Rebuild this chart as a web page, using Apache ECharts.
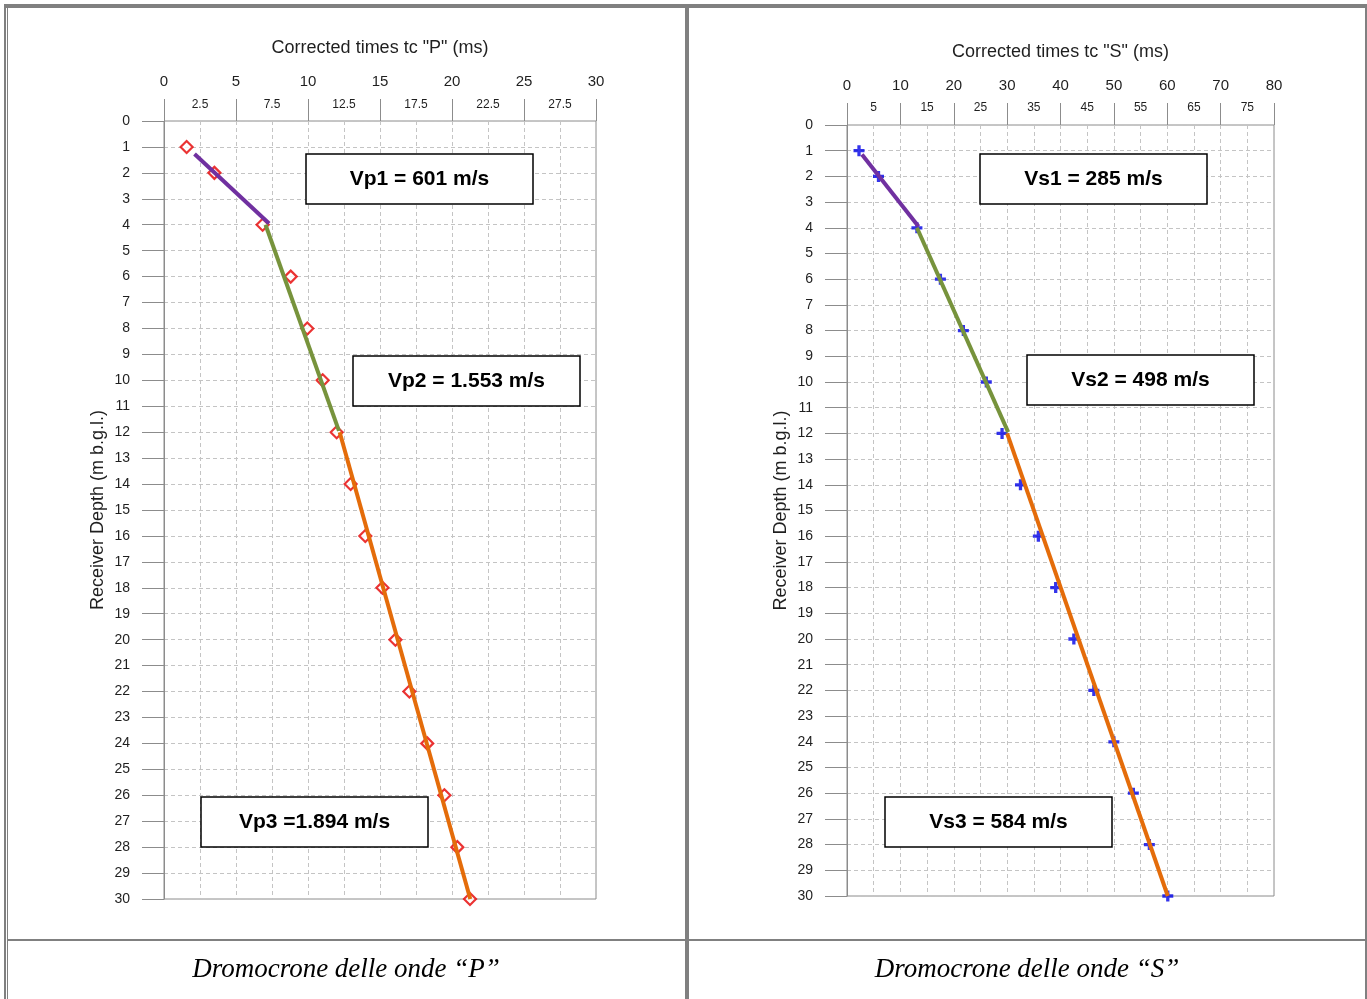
<!DOCTYPE html>
<html>
<head>
<meta charset="utf-8">
<title>Dromocrone delle onde P e S</title>
<script src="https://cdn.jsdelivr.net/npm/echarts@6/dist/echarts.min.js"></script>
<style>
  html, body { margin: 0; padding: 0; background: #ffffff; }
  #chart { width: 1367px; height: 999px; }
</style>
</head>
<body>
<div id="chart"></div>
<script>
// Receiver depths (m b.g.l.)
const depths = [1, 2, 4, 6, 8, 10, 12, 14, 16, 18, 20, 22, 24, 26, 28, 30];

// Corrected first-arrival times, P waves (ms)
const timesP = [1.57, 3.5, 6.85, 8.8, 9.95, 11.02, 11.99, 12.96, 13.98, 15.17, 16.07, 17.04, 18.28, 19.47, 20.37, 21.25];
// Corrected first-arrival times, S waves (ms)
const timesS = [2.25, 5.9, 13.1, 17.5, 21.8, 26.1, 29.05, 32.5, 35.85, 39.1, 42.5, 46.25, 50.0, 53.65, 56.65, 60.1];

// Layer fit segments: [time start, time end] and [depth start, depth end]
const fitP1Time = [2.12, 7.3];   const fitP1Depth = [1.27, 3.95];
const fitP2Time = [7.05, 12.15]; const fitP2Depth = [4.0, 11.95];
const fitP3Time = [12.2, 21.27]; const fitP3Depth = [12.0, 30];
const fitS1Time = [2.8, 13.4];   const fitS1Depth = [1.15, 3.95];
const fitS2Time = [13.1, 30.2];  const fitS2Depth = [4.0, 11.95];
const fitS3Time = [30.0, 60.1];  const fitS3Depth = [12.0, 30];

// Layer velocity labels
const labelsP = ['Vp1 = 601 m/s', 'Vp2 = 1.553 m/s', 'Vp3 =1.894 m/s'];
const labelsS = ['Vs1 = 285 m/s', 'Vs2 = 498 m/s', 'Vs3 = 584 m/s'];

// Time axis ticks
const majorP = [0, 5, 10, 15, 20, 25, 30];
const minorP = [2.5, 7.5, 12.5, 17.5, 22.5, 27.5];
const majorS = [0, 10, 20, 30, 40, 50, 60, 70, 80];
const minorS = [5, 15, 25, 35, 45, 55, 65, 75];

const captionP = 'Dromocrone delle onde \u201CP\u201D';
const captionS = 'Dromocrone delle onde \u201CS\u201D';

const SANS = '"Liberation Sans", Arial, sans-serif';
const SERIF = '"Liberation Serif", "Times New Roman", serif';
const TXT = '#1f1f1f';
const AXIS = '#8c8c8c';
const DASH = '#c4c4c4';
const FRAME = '#808080';
const PURPLE = '#7030a0', GREEN = '#77933c', ORANGE = '#e46c0a';

const chart = echarts.init(document.getElementById('chart'), null, { renderer: 'canvas' });

function seg(t, d) { return [[t[0], d[0]], [t[1], d[1]]]; }

function panelAxes(g, xmax, minorStep, major, minor, title, titleGap, majorMargin, minorMargin) {
  const xs = [
    { // dashed vertical grid
      gridIndex: g, type: 'value', position: 'top', min: 0, max: xmax, interval: minorStep,
      axisLine: { show: false }, axisTick: { show: false }, axisLabel: { show: false },
      splitLine: { show: true, lineStyle: { color: DASH, type: [4, 3], width: 1 } },
      name: title, nameLocation: 'middle', nameGap: titleGap,
      nameTextStyle: { fontFamily: SANS, fontSize: 18, color: TXT }
    },
    { // secondary labels with long ticks
      gridIndex: g, type: 'value', position: 'top', min: 0, max: xmax,
      axisLine: { show: false }, splitLine: { show: false },
      axisTick: { show: true, length: 22, customValues: major, lineStyle: { color: AXIS, width: 1 } },
      axisLabel: { customValues: minor, fontFamily: SANS, fontSize: 12, color: TXT, margin: minorMargin }
    },
    { // main time labels
      gridIndex: g, type: 'value', position: 'top', min: 0, max: xmax,
      axisLine: { show: false }, splitLine: { show: false }, axisTick: { show: false },
      axisLabel: { customValues: major, fontFamily: SANS, fontSize: 15, color: TXT, margin: majorMargin }
    }
  ];
  const y = {
    gridIndex: g, type: 'value', inverse: true, min: 0, max: 30, interval: 1,
    axisLine: { show: true, lineStyle: { color: AXIS, width: 1 } },
    axisTick: { show: true, length: 22, lineStyle: { color: AXIS, width: 1 } },
    axisLabel: { fontFamily: SANS, fontSize: 14, color: TXT, margin: 34 },
    splitLine: { show: true, lineStyle: { color: DASH, type: [4, 3], width: 1 } },
    name: 'Receiver Depth (m b.g.l.)', nameLocation: 'middle', nameRotate: 90, nameGap: 57,
    nameTextStyle: { fontFamily: SANS, fontSize: 18, color: TXT }
  };
  return { xs, y };
}

const pA = panelAxes(0, 30, 2.5, majorP, minorP, 'Corrected times tc "P" (ms)', 64, 32, 10);
const sA = panelAxes(1, 80, 5, majorS, minorS, 'Corrected times tc "S" (ms)', 64, 32, 11);

function fitLine(xi, yi, data, color) {
  return {
    type: 'line', xAxisIndex: xi, yAxisIndex: yi, data: data, symbol: 'none', z: 3,
    lineStyle: { color: color, width: 4 }, silent: true
  };
}

function labelBox(x, y, text) {
  return {
    type: 'group', x: x, y: y,
    children: [
      { type: 'rect', z: 100, shape: { x: 0, y: 0, width: 227, height: 50 },
        style: { fill: '#ffffff', stroke: '#000000', lineWidth: 1.5 } },
      { type: 'text', z: 101, x: 113.5, y: 25,
        style: { text: text, fill: '#000000', font: 'bold 21px ' + SANS, align: 'center', verticalAlign: 'middle' } }
    ]
  };
}

function frameRect(x, y, w, h) {
  return { type: 'rect', z: 100, shape: { x: x, y: y, width: w, height: h }, style: { fill: FRAME } };
}

const plusPath = 'path://M3.5,0H6.5V3.5H10V6.5H6.5V10H3.5V6.5H0V3.5H3.5Z';

const option = {
  animation: false,
  backgroundColor: '#ffffff',
  grid: [
    { left: 164, top: 121, width: 432, height: 778, show: true, borderColor: AXIS, borderWidth: 1, backgroundColor: 'transparent' },
    { left: 847, top: 125, width: 427, height: 771, show: true, borderColor: AXIS, borderWidth: 1, backgroundColor: 'transparent' }
  ],
  xAxis: pA.xs.concat(sA.xs),
  yAxis: [pA.y, sA.y],
  series: [
    {
      type: 'scatter', xAxisIndex: 0, yAxisIndex: 0, symbol: 'diamond', symbolSize: 12, z: 2,
      itemStyle: { color: '#ffffff', borderColor: '#e60000', borderWidth: 2.2 },
      data: depths.map((d, i) => [timesP[i], d])
    },
    fitLine(0, 0, seg(fitP1Time, fitP1Depth), PURPLE),
    fitLine(0, 0, seg(fitP2Time, fitP2Depth), GREEN),
    fitLine(0, 0, seg(fitP3Time, fitP3Depth), ORANGE),
    {
      type: 'scatter', xAxisIndex: 3, yAxisIndex: 1, symbol: plusPath, symbolSize: 11, z: 2,
      itemStyle: { color: '#0000e6' },
      data: depths.map((d, i) => [timesS[i], d])
    },
    fitLine(3, 1, seg(fitS1Time, fitS1Depth), PURPLE),
    fitLine(3, 1, seg(fitS2Time, fitS2Depth), GREEN),
    fitLine(3, 1, seg(fitS3Time, fitS3Depth), ORANGE)
  ],
  graphic: [
    // table frame
    frameRect(4, 4, 1363, 4),
    frameRect(4, 4, 2, 995),
    frameRect(7, 8, 1, 991),
    frameRect(685, 8, 4, 991),
    frameRect(1365, 4, 2, 995),
    frameRect(8, 939, 1357, 2),
    // velocity labels
    labelBox(306, 154, labelsP[0]),
    labelBox(353, 356, labelsP[1]),
    labelBox(201, 797, labelsP[2]),
    labelBox(980, 154, labelsS[0]),
    labelBox(1027, 355, labelsS[1]),
    labelBox(885, 797, labelsS[2]),
    // captions
    { type: 'text', x: 346, y: 970, z: 100,
      style: { text: captionP, fill: '#000000', font: 'italic 27px ' + SERIF, align: 'center', verticalAlign: 'middle' } },
    { type: 'text', x: 1027, y: 970, z: 100,
      style: { text: captionS, fill: '#000000', font: 'italic 27px ' + SERIF, align: 'center', verticalAlign: 'middle' } }
  ]
};

chart.setOption(option);
</script>
</body>
</html>
